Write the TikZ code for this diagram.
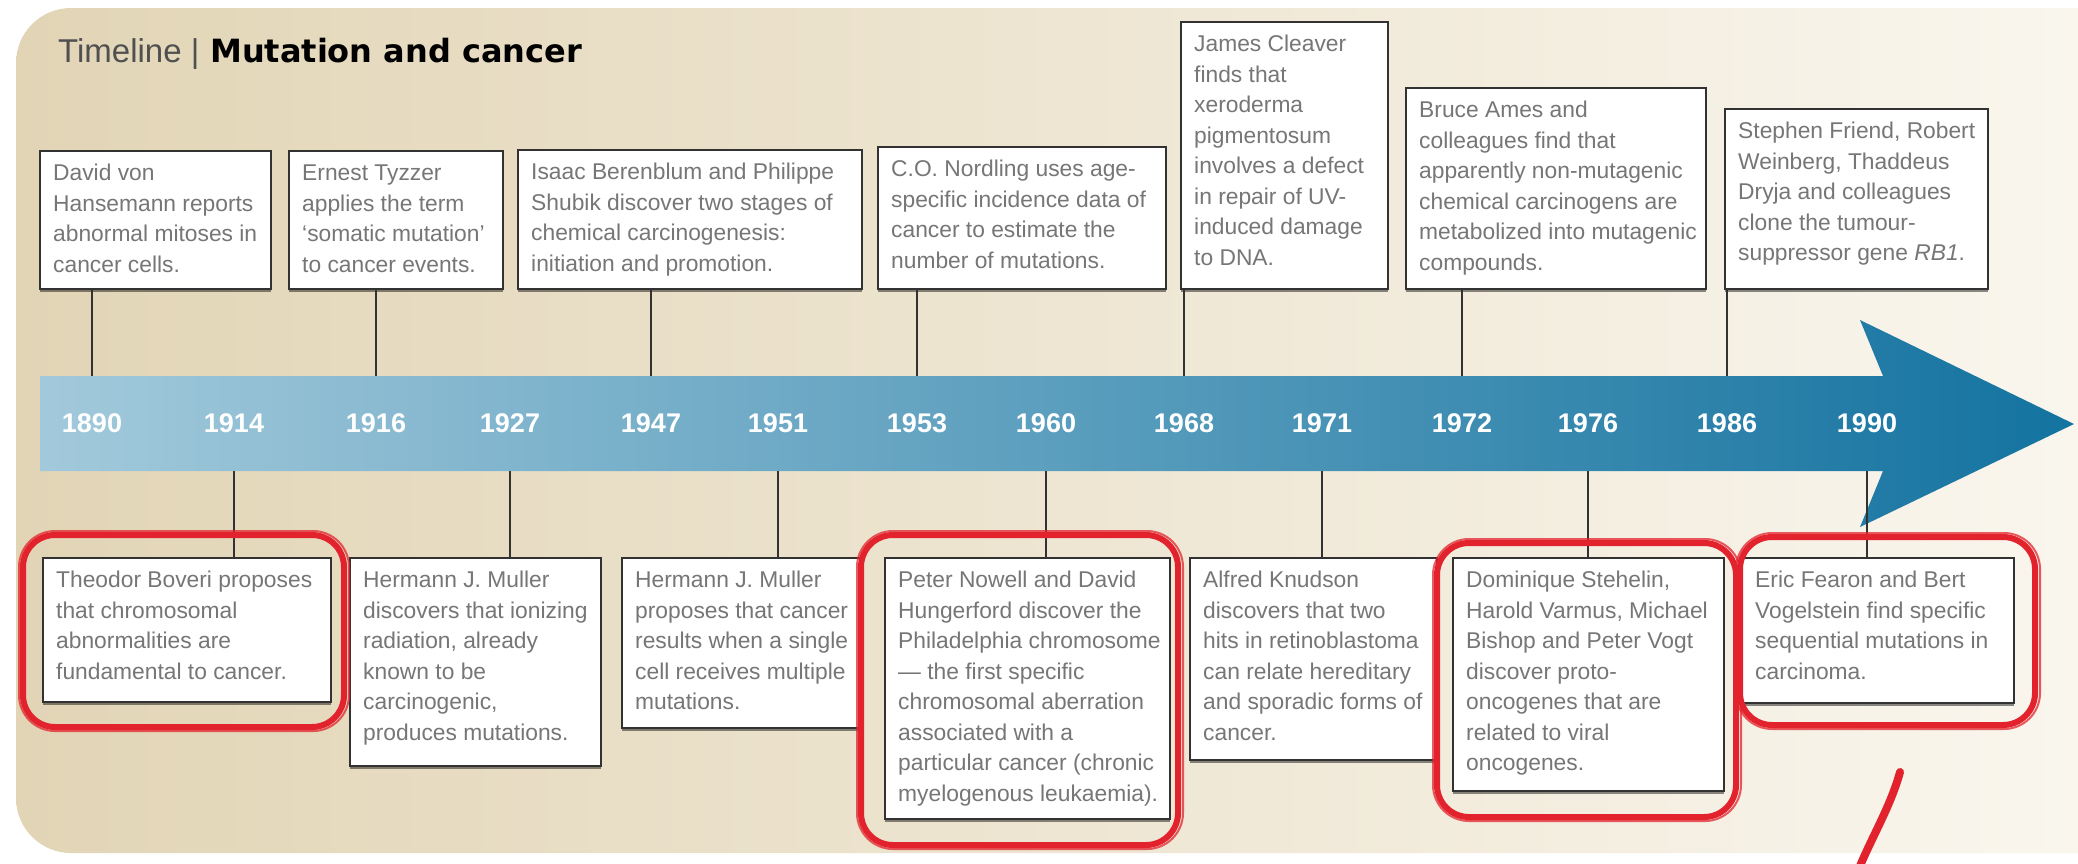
\documentclass[tikz,border=0pt]{standalone}
\usepackage{fontspec}
\setmainfont{Liberation Sans}
\newfontfamily\titlefont{DejaVu Sans}
\usetikzlibrary{shadows}
\definecolor{bgL}{RGB}{226,213,182}
\definecolor{bgM}{RGB}{238,228,206}
\definecolor{bgR}{RGB}{251,248,241}
\definecolor{arrL}{RGB}{162,201,219}
\definecolor{arrR}{RGB}{20,115,160}
\definecolor{txtgray}{RGB}{118,118,118}
\definecolor{ttlgray}{RGB}{80,80,80}
\definecolor{boxline}{RGB}{50,50,50}
\definecolor{annred}{RGB}{226,35,45}
\tikzset{
  evbox/.style={draw=boxline, line width=2.5pt, fill=white, inner sep=0pt, outer sep=0pt, anchor=north west,
    drop shadow={shadow xshift=0pt, shadow yshift=-3pt, opacity=0.45, fill=black}},
  evtext/.style={anchor=north west, align=left, inner sep=0pt, text=txtgray, font=\fontsize{22.8}{30.5}\selectfont},
  yearlbl/.style={text=white, font=\fontsize{27}{27}\selectfont\bfseries, inner sep=0pt},
  conn/.style={draw=boxline, line width=2pt},
  redmark/.style={draw=annred, line width=6pt, rounded corners=32pt},
  redthin/.style={draw=annred, line width=2pt, rounded corners=36pt, opacity=0.75},
}
\newcommand\tlbox[6]{%
  \node[evbox, minimum width={(#4-#2)*1pt}, minimum height={(#5-#3)*1pt}] (#1) at (#2,#3) {};
  \node[evtext] (#1t) at (#2+13,#3+8) {\strut #6};
}
\begin{document}
\begin{tikzpicture}[x=1pt,y=-1pt]
\useasboundingbox (0,0) rectangle (2078,863);
\fill[white] (0,0) rectangle (2078,863);
% background
\begin{scope}
\clip (0,0) rectangle (2078,863);
\shade[left color=bgL, middle color=bgM, right color=bgR, rounded corners=55pt] (16,8) rectangle (2200,853);
\end{scope}
% title
\node[anchor=base west, inner sep=0pt, text=ttlgray] (ttl) at (58,62) {\fontsize{33}{33}\selectfont Timeline |};
\node[anchor=base west, inner sep=0pt] (ttl2) at (210,62) {\titlefont\bfseries\fontsize{32}{32}\selectfont Mutation and cancer};
% arrow
\shade[left color=arrL, right color=arrR] (40,376) -- (1883,376) -- (1860,320) -- (2074,424) -- (1860,527) -- (1883,471) -- (40,471) -- cycle;
\coordinate (bandT) at (0,376);
\coordinate (bandB) at (0,471);
% years
\foreach \yr/\xx in {1890/92,1914/234,1916/376,1927/510,1947/651,1951/778,1953/917,1960/1046,1968/1184,1971/1322,1972/1462,1976/1588,1986/1727,1990/1867}
  \node[yearlbl] (y\yr) at (\xx,423) {\yr};
% top boxes
\tlbox{t1}{40}{151}{271}{289}{David von\\Hansemann reports\\abnormal mitoses in\\cancer cells.}
\tlbox{t2}{289}{151}{503}{289}{Ernest Tyzzer\\applies the term\\‘somatic mutation’\\to cancer events.}
\tlbox{t3}{518}{150}{862}{289}{Isaac Berenblum and Philippe\\Shubik discover two stages of\\chemical carcinogenesis:\\initiation and promotion.}
\tlbox{t4}{878}{147}{1166}{289}{C.O. Nordling uses age-\\specific incidence data of\\cancer to estimate the\\number of mutations.}
\tlbox{t5}{1181}{22}{1388}{289}{James Cleaver\\finds that\\xeroderma\\pigmentosum\\involves a defect\\in repair of UV-\\induced damage\\to DNA.}
\tlbox{t6}{1406}{88}{1706}{289}{Bruce Ames and\\colleagues find that\\apparently non-mutagenic\\chemical carcinogens are\\metabolized into mutagenic\\compounds.}
\tlbox{t7}{1725}{109}{1988}{289}{Stephen Friend, Robert\\Weinberg, Thaddeus\\Dryja and colleagues\\clone the tumour-\\suppressor gene \textit{RB1}.}
% bottom boxes
\tlbox{b1}{43}{558}{331}{702}{Theodor Boveri proposes\\that chromosomal\\abnormalities are\\fundamental to cancer.}
\tlbox{b2}{350}{558}{601}{766}{Hermann J. Muller\\discovers that ionizing\\radiation, already\\known to be\\carcinogenic,\\produces mutations.}
\tlbox{b3}{622}{558}{862}{728}{Hermann J. Muller\\proposes that cancer\\results when a single\\cell receives multiple\\mutations.}
\tlbox{b4}{885}{558}{1170}{819}{Peter Nowell and David\\Hungerford discover the\\Philadelphia chromosome\\— the first specific\\chromosomal aberration\\associated with a\\particular cancer (chronic\\myelogenous leukaemia).}
\tlbox{b5}{1190}{558}{1437}{760}{Alfred Knudson\\discovers that two\\hits in retinoblastoma\\can relate hereditary\\and sporadic forms of\\cancer.}
\tlbox{b6}{1453}{558}{1724}{791}{Dominique Stehelin,\\Harold Varmus, Michael\\Bishop and Peter Vogt\\discover proto-\\oncogenes that are\\related to viral\\oncogenes.}
\tlbox{b7}{1742}{558}{2014}{703}{Eric Fearon and Bert\\Vogelstein find specific\\sequential mutations in\\carcinoma.}
% connectors
\foreach \bx/\yr in {t1/1890,t2/1916,t3/1947,t4/1953,t5/1968,t6/1972,t7/1986}
  \draw[conn] (\bx.south -| y\yr) -- (bandT -| y\yr);
\foreach \bx/\yr in {b1/1914,b2/1927,b3/1951,b4/1960,b5/1971,b6/1976,b7/1990}
  \draw[conn] (bandB -| y\yr) -- (\bx.north -| y\yr);
% red annotations
\draw[redmark] (23,535) rectangle (344,727);
\draw[redthin] (19,531) rectangle (349,731);
\draw[redmark] (861,535) rectangle (1178,845);
\draw[redthin] (857,531) rectangle (1183,849);
\draw[redmark] (1437,543) rectangle (1736,817);
\draw[redthin] (1433,539) rectangle (1741,821);
\draw[redmark] (1740,537) rectangle (2035,725);
\draw[redthin] (1736,533) rectangle (2040,729);
\draw[annred, line width=8pt, line cap=round] (1900,772) .. controls (1891,805) and (1873,835) .. (1860,866);
\end{tikzpicture}
\end{document}
